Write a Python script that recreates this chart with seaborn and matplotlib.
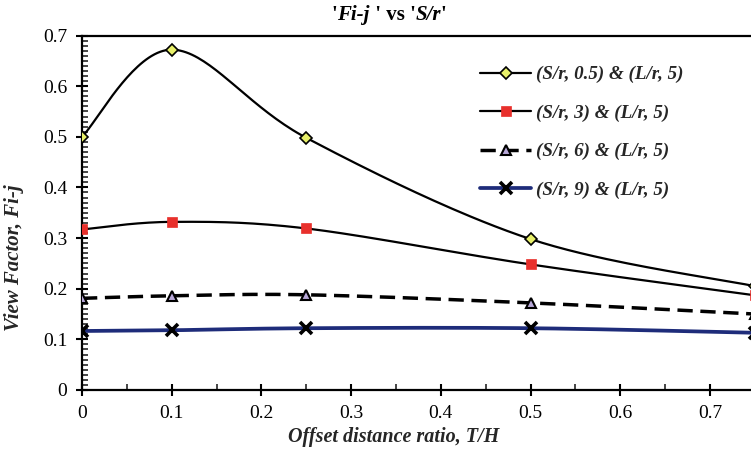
import numpy as np
import pandas as pd
import matplotlib
matplotlib.use("Agg")
import matplotlib.pyplot as plt
from matplotlib.lines import Line2D
from matplotlib.offsetbox import TextArea, HPacker, AnchoredOffsetbox
from matplotlib.ticker import MultipleLocator, FormatStrFormatter
import seaborn as sns

# ---------------- data ----------------
offset_ratio = [0.0, 0.1, 0.25, 0.5, 0.75]
series_labels = ["(S/r, 0.5) & (L/r, 5)", "(S/r, 3) & (L/r, 5)",
                 "(S/r, 6) & (L/r, 5)", "(S/r, 9) & (L/r, 5)"]
vf_sr05 = [0.500, 0.672, 0.498, 0.298, 0.205]
vf_sr3 = [0.317, 0.332, 0.319, 0.248, 0.187]
vf_sr6 = [0.181, 0.186, 0.188, 0.172, 0.150]
vf_sr9 = [0.1165, 0.118, 0.122, 0.122, 0.113]
x_ticks = [0.0, 0.1, 0.2, 0.3, 0.4, 0.5, 0.6, 0.7]
y_ticks = [0.0, 0.1, 0.2, 0.3, 0.4, 0.5, 0.6, 0.7]

sns.set_theme(style="white")
plt.rcParams['font.family'] = ['Liberation Serif', 'DejaVu Serif']

fig = plt.figure(figsize=(7.51, 4.61), dpi=100)
ax = fig.add_axes([82 / 751, 1 - 390 / 461, 1 - 82 / 751, (390 - 35.5) / 461])


def smooth(xs, ys, n=40):
    """Excel-style smoothed line (cubic Bezier through the points)."""
    P = np.column_stack([xs, ys]).astype(float)
    m = len(P)
    out = []
    for i in range(m - 1):
        p0 = P[i - 1] if i > 0 else P[i]
        p1, p2 = P[i], P[i + 1]
        p3 = P[i + 2] if i + 2 < m else P[i + 1]
        c1 = p1 + (p2 - p0) / 6.0
        c2 = p2 - (p3 - p1) / 6.0
        t = np.linspace(0, 1, n)[:, None]
        seg = ((1 - t) ** 3) * p1 + 3 * ((1 - t) ** 2) * t * c1 + 3 * (1 - t) * t ** 2 * c2 + t ** 3 * p2
        out.append(seg if i == 0 else seg[1:])
    s = np.vstack(out)
    return s[:, 0], s[:, 1]


styles = [
    dict(color="black", lw=1.6, ls="-", marker="D", ms=6.5, mfc="#e8f06a", mec="black", mew=1.2),
    dict(color="black", lw=1.6, ls="-", marker="s", ms=7, mfc="#e8302c", mec="#e8302c", mew=0.5),
    dict(color="black", lw=2.5, ls=(0, (4.4, 2.2)), marker="^", ms=7.5, mfc="#b8a8d8", mec="black", mew=1.5),
    dict(color="#1e2c7a", lw=2.7, ls="-", marker="x", ms=8, mfc="black", mec="black", mew=2.6),
]
all_series = [vf_sr05, vf_sr3, vf_sr6, vf_sr9]

for vals, st in zip(all_series, styles):
    sx, sy = smooth(offset_ratio, vals)
    dfl = pd.DataFrame({"x": sx, "y": sy})
    sns.lineplot(data=dfl, x="x", y="y", sort=False, estimator=None, ax=ax,
                 color=st["color"], lw=st["lw"], linestyle=st["ls"], zorder=2)

for vals, st in zip(all_series, styles):
    dfm = pd.DataFrame({"x": offset_ratio, "y": vals})
    ax.plot(dfm["x"], dfm["y"], linestyle="none", marker=st["marker"], ms=st["ms"],
            mfc=st["mfc"], mec=st["mec"], mew=st["mew"], zorder=3)

ax.set_xlim(0, (751 - 82) / 897.0)
ax.set_ylim(0, 0.7)
ax.set_xticks(x_ticks)
ax.set_yticks(y_ticks)
ax.xaxis.set_major_formatter(FormatStrFormatter('%g'))
ax.yaxis.set_major_formatter(FormatStrFormatter('%g'))
ax.xaxis.set_minor_locator(MultipleLocator(0.05))
ax.yaxis.set_minor_locator(MultipleLocator(0.01))
ax.tick_params(axis="both", which="major", direction="inout", length=9, width=1.5,
               labelsize=14, colors="black")
ax.tick_params(axis="y", which="major", pad=6)
ax.tick_params(axis="x", which="major", pad=6)
ax.tick_params(axis="both", which="minor", direction="in", length=4, width=1.2)
ax.tick_params(left=True, bottom=True, which="both")
ax.set_xlabel("")
ax.set_ylabel("")

for side in ["left", "bottom", "top"]:
    ax.spines[side].set_visible(True)
    ax.spines[side].set_color("black")
    ax.spines[side].set_linewidth(1.6)
ax.spines["right"].set_visible(False)
ax.grid(False)

# legend
handles = [Line2D([], [], color=st["color"], lw=st["lw"], linestyle=st["ls"], marker=st["marker"],
                  ms=st["ms"], mfc=st["mfc"], mec=st["mec"], mew=st["mew"]) for st in styles]
leg = ax.legend(handles, series_labels, loc="upper left",
                bbox_to_anchor=(480 / 751, 1 - 66 / 461), bbox_transform=fig.transFigure,
                frameon=False, borderpad=0, borderaxespad=0,
                handlelength=2.7, handletextpad=0.22, labelspacing=1.11,
                prop=dict(family="Liberation Serif", weight="bold", style="italic", size=13.7))

# title
bold = dict(family="Liberation Serif", weight="bold", size=15, color="black")
boldit = dict(family="Liberation Serif", weight="bold", style="italic", size=15, color="black")
parts = [TextArea("'", textprops=bold), TextArea("Fi-j", textprops=boldit),
         TextArea(" ' vs '", textprops=bold), TextArea("S/r", textprops=boldit),
         TextArea("'", textprops=bold)]
box = HPacker(children=parts, align="baseline", pad=0, sep=0)
anch = AnchoredOffsetbox(loc="center", child=box, pad=0, borderpad=0, frameon=False,
                         bbox_to_anchor=(389 / 751, 1 - 15 / 461), bbox_transform=fig.transFigure)
fig.add_artist(anch)

fig.text(394 / 751, 1 - 437 / 461, "Offset distance ratio, T/H", ha="center", va="center",
         family="Liberation Serif", weight="bold", style="italic", size=14.5)
fig.text(14 / 751, 1 - 258 / 461, "View Factor, Fi-j", ha="center", va="center", rotation=90,
         family="Liberation Serif", weight="bold", style="italic", size=15)

fig.savefig("out.png", dpi=100)
